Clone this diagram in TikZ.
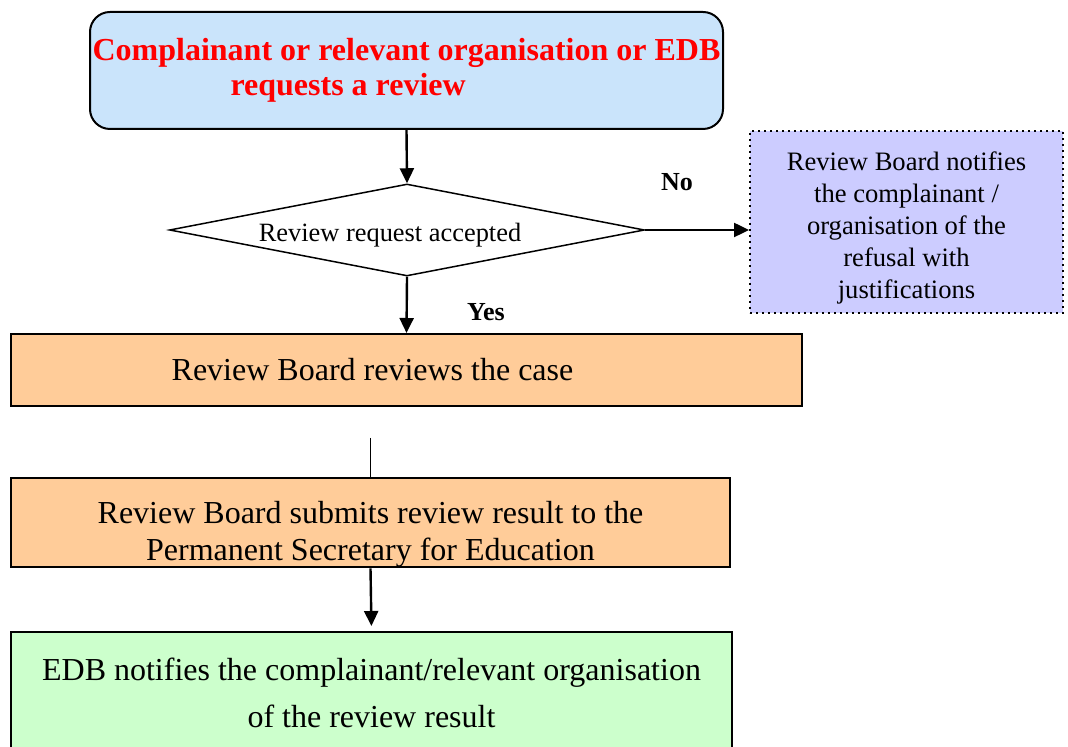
\documentclass[tikz,border=0pt]{standalone}
\usepackage{fontspec}
\setmainfont{Liberation Serif}
\usetikzlibrary{shapes.geometric,arrows.meta}

\definecolor{reqblue}{RGB}{202,228,251}
\definecolor{refusepurple}{RGB}{204,204,255}
\definecolor{boardorange}{RGB}{255,204,153}
\definecolor{resultgreen}{RGB}{204,255,204}

\begin{document}
\begin{tikzpicture}[x=0.5pt,y=-0.5pt,
  box/.style={draw,line width=1pt,inner sep=0pt,align=center,font=\fontsize{16}{18.5}\selectfont},
  arr/.style={-{Triangle[length=7.5pt,width=7pt]},line width=1.2pt},
  yesno/.style={font=\fontsize{13}{15}\selectfont\bfseries}]

\useasboundingbox (0,0) rectangle (1068,747);

\node [box,rounded corners=10pt,fill=reqblue,minimum width=316.5pt,minimum height=58.5pt,
  align=left,font=\fontsize{16}{17.5}\selectfont\bfseries,text=red] (req) at (406.5,70.5)
  {Complainant or relevant organisation or EDB\\\hspace*{69pt}requests a review};

\node [draw,shape=diamond,aspect=5.16,line width=0.75pt,inner sep=0pt,minimum width=237.5pt,
  minimum height=46pt,font=\fontsize{13.2}{15}\selectfont] (dec) at (407,230)
  {\rule{0pt}{14pt}Review request accepted\hspace*{17pt}};

\node [box,dotted,fill=refusepurple,minimum width=156.5pt,minimum height=91pt,
  font=\fontsize{13.3}{16}\selectfont] (refuse) at (906.5,222)
  {\rule{0pt}{15.5pt}Review Board notifies\\the complainant /\\organisation of the\\refusal with\\justifications};

\node [yesno] (no) at (677,182) {No};
\node [yesno] (yes) at (486,312) {Yes};

\node [box,fill=boardorange,minimum width=395.5pt,minimum height=36pt] (review) at (406.5,370)
  {Review Board reviews the case\hspace*{34pt}};

\node [box,fill=boardorange,minimum width=359.5pt,minimum height=44.5pt] (submit) at (370.5,522.5)
  {\rule{0pt}{23pt}Review Board submits review result to the\\Permanent Secretary for Education};

\node [box,fill=resultgreen,minimum width=360.5pt,minimum height=60.5pt,anchor=north,
  font=\fontsize{16}{23.5}\selectfont] (notify) at (371.5,631)
  {EDB notifies the complainant/relevant organisation\\of the review result};

\coordinate (gap) at (370.5,438);

\draw[arr] (req.south) -- (dec.north);
\draw[arr] (dec.east) -- (dec.east -| refuse.west);
\draw[arr] (dec.south) -- (review.north);
\draw[line width=0.8pt] (gap) -- (submit.north);
\draw[arr,shorten >=2.5pt] (submit.south) -- (notify.north);

\end{tikzpicture}
\end{document}
